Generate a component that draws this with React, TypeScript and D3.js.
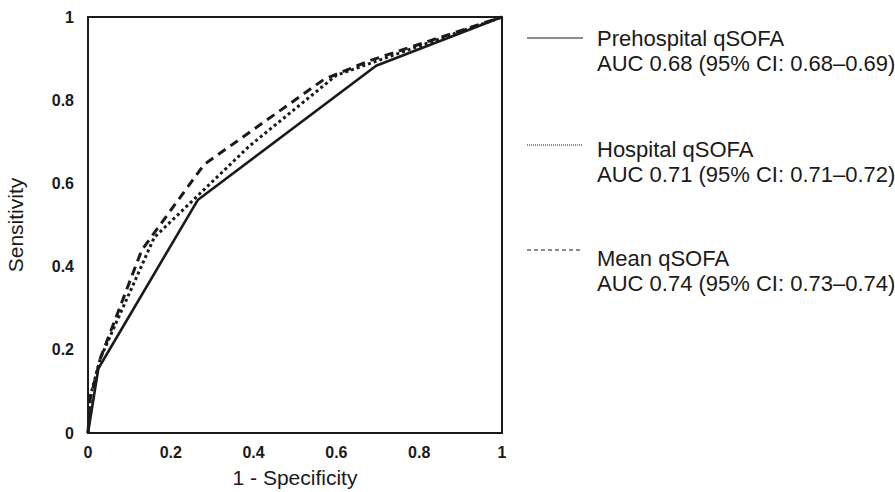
import * as d3 from "d3";
import { useEffect, useRef } from "react";

// ROC points, [1 - specificity, sensitivity]
const prehospital: [number, number][] = [
  [0, 0], [0.025, 0.155], [0.265, 0.56], [0.696, 0.883], [1, 1],
];
const hospital: [number, number][] = [
  [0, 0], [0.006, 0.09], [0.03, 0.18], [0.16, 0.47], [0.39, 0.69], [0.6, 0.86], [1, 1],
];
const meanQsofa: [number, number][] = [
  [0, 0], [0.005, 0.08], [0.03, 0.18], [0.13, 0.44], [0.28, 0.645], [0.57, 0.85], [0.68, 0.895], [1, 1],
];

const tickValues = [0, 0.2, 0.4, 0.6, 0.8, 1];
const tickLabels = ["0", "0.2", "0.4", "0.6", "0.8", "1"];

const seriesNames = ["Prehospital qSOFA", "Hospital qSOFA", "Mean qSOFA"];
const seriesAuc = [
  "AUC 0.68 (95% CI: 0.68–0.69)",
  "AUC 0.71 (95% CI: 0.71–0.72)",
  "AUC 0.74 (95% CI: 0.73–0.74)",
];

const width = 895;
const height = 492;
const margin = { top: 17, right: 393, bottom: 59, left: 88 };
const font = "'Liberation Sans', Arial, Helvetica, sans-serif";
const ink = "#1a1a1a";

export default function App() {
  const ref = useRef<SVGSVGElement>(null);

  const x = d3.scaleLinear([0, 1], [margin.left, width - margin.right]);
  const y = d3.scaleLinear([0, 1], [height - margin.bottom, margin.top]);

  const line = d3.line<[number, number]>().x(d => x(d[0])).y(d => y(d[1]));

  // plot styles and legend styles for each series
  const plotDash = [null, "3,3", "9,6"];
  const plotWidth = [2.6, 3, 3];
  const legendDash = [null, "1,1", "4,3"];
  const legendY = [38, 145, 250];
  const textY = [38, 149, 258];

  useEffect(() => {
    const svg = d3.select(ref.current);
    svg.select(".x-ticks")
      .selectAll("text")
      .data(tickValues)
      .join("text")
      .attr("x", d => x(d))
      .attr("y", height - margin.bottom + 25)
      .attr("text-anchor", "middle")
      .text((d, i) => tickLabels[i]);

    svg.select(".y-ticks")
      .selectAll("text")
      .data(tickValues)
      .join("text")
      .attr("x", margin.left - 14)
      .attr("y", d => y(d))
      .attr("dy", "0.35em")
      .attr("text-anchor", "end")
      .text((d, i) => tickLabels[i]);
  }, []);

  const lines = [prehospital, hospital, meanQsofa];

  return (
    <svg ref={ref} width={width} height={height} style={{ display: "block", position: "absolute", left: 0, top: 0 }}>
      <rect x={0} y={0} width={width} height={height} fill="white" />
      {lines.map((d, i) => (
        <path
          key={i}
          d={line(d) ?? ""}
          fill="none"
          stroke={ink}
          strokeWidth={plotWidth[i]}
          strokeDasharray={plotDash[i] ?? undefined}
          strokeLinejoin="round"
        />
      ))}
      <rect
        x={x(0)} y={y(1)} width={x(1) - x(0)} height={y(0) - y(1)}
        fill="none" stroke={ink} strokeWidth={2}
      />
      <g className="x-ticks" fontFamily={font} fontWeight="bold" fontSize={16} fill={ink}></g>
      <g className="y-ticks" fontFamily={font} fontWeight="bold" fontSize={16} fill={ink}></g>

      <text x={(x(0) + x(1)) / 2} y={height - 7} textAnchor="middle" fontFamily={font} fontSize={21} fill={ink}>
        1 - Specificity
      </text>
      <text
        transform={`translate(23,${(y(0) + y(1)) / 2}) rotate(-90)`}
        textAnchor="middle" fontFamily={font} fontSize={21} fill={ink}
      >
        Sensitivity
      </text>

      {seriesNames.map((name, i) => (
        <g key={name}>
          <line
            x1={527} x2={583} y1={legendY[i]} y2={legendY[i]}
            stroke={ink} strokeWidth={1.2} strokeDasharray={legendDash[i] ?? undefined}
          />
          <text x={597} y={textY[i]} dy="0.35em" fontFamily={font} fontSize={22} fill={ink}>{name}</text>
          <text x={597} y={textY[i] + 25} dy="0.35em" fontFamily={font} fontSize={22} fill={ink}>{seriesAuc[i]}</text>
        </g>
      ))}
    </svg>
  );
}
